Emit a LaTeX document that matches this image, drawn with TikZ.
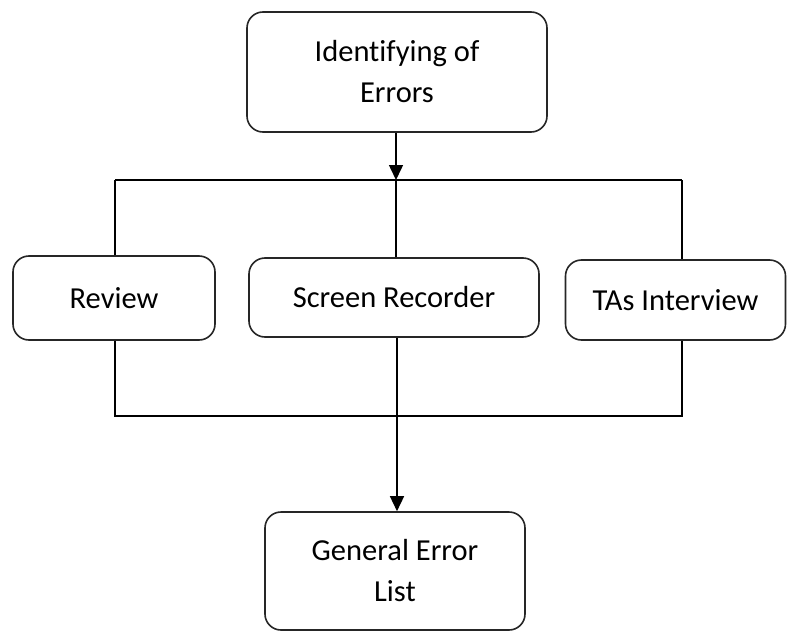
\documentclass[tikz,border=0pt]{standalone}
\usepackage{fontspec}
\setmainfont{Carlito}[Ligatures=NoCommon]
\usetikzlibrary{arrows.meta}
\begin{document}
\begin{tikzpicture}[x=1pt,y=-1pt,
  box/.style={draw=black!85, line width=1.6pt, rounded corners=16pt, fill=white,
    inner sep=0pt, align=center, font=\fontsize{30.5}{41}\selectfont},
  link/.style={draw=black, line width=1.5pt},
  arr/.style={link, -{Triangle[length=15pt,width=14pt]}}]
\useasboundingbox (0,0) rectangle (788,632);
% process boxes
\node[box, minimum width=300pt, minimum height=120pt] (ident) at (397,72) {Identifying of\\Errors};
\node[box, minimum width=202pt, minimum height=84pt] (review) at (114,298) {Review};
\node[box, minimum width=290pt, minimum height=79pt] (screen) at (394,297.5) {Screen Recorder};
\node[box, minimum width=220pt, minimum height=80pt] (tas) at (675.5,300) {TAs Interview};
\node[box, minimum width=260pt, minimum height=118pt] (general) at (395,571) {General Error\\List};
% branching rails
\coordinate (split) at (396,180);
\coordinate (merge) at (397,416);
\coordinate (rtop) at (682,180);
\coordinate (rbot) at (682,416);
\coordinate (ltop) at (115,180);
\coordinate (lbot) at (115,416);
% connectors
\draw[arr] (ident.south -| split) -- (split);
\draw[link] (ltop) -- (rtop);
\draw[link] (ltop) -- (ltop |- review.north);
\draw[link] (split) -- (split |- screen.north);
\draw[link] (rtop) -- (rtop |- tas.north);
\draw[link] (lbot |- review.south) -- (lbot) -- (rbot) -- (rbot |- tas.south);
\draw[arr] (merge |- screen.south) -- (merge |- general.north);
\end{tikzpicture}
\end{document}
